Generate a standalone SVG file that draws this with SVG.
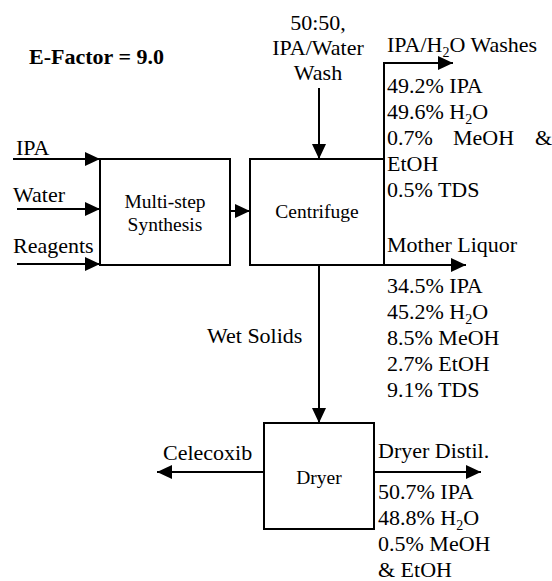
<svg xmlns="http://www.w3.org/2000/svg" width="552" height="581" viewBox="0 0 552 581">
<defs>
<marker id="ah" markerWidth="15" markerHeight="14" refX="15" refY="7" orient="auto" markerUnits="userSpaceOnUse">
<path d="M0,0 L15,7 L0,14 Z" fill="#000"/>
</marker>
<style>
.box{fill:#fff;stroke:#000;stroke-width:2}
.lbl{font-size:19.5px;text-anchor:middle}
.c{stroke:#000;stroke-width:2;fill:none}
.a{marker-end:url(#ah)}
.sub{font-size:14px}
</style>
</defs>
<rect width="552" height="581" fill="#fff"/>
<g font-family="Liberation Serif, Times New Roman, serif" font-size="22" fill="#000">
<text x="29" y="64" font-weight="bold">E-Factor = 9.0</text>
<g id="connectors">
<line class="c a" x1="13" y1="159" x2="100" y2="159"/>
<line class="c a" x1="17" y1="209" x2="100" y2="209"/>
<line class="c a" x1="17" y1="264" x2="100" y2="264"/>
<line class="c a" x1="230" y1="211" x2="250" y2="211"/>
<line class="c a" x1="319" y1="88" x2="319" y2="159"/>
<polyline class="c a" points="384,265 384,63 453,63"/>
<line class="c a" x1="384" y1="265" x2="466" y2="265"/>
<line class="c a" x1="319" y1="265" x2="319" y2="423"/>
<line class="c a" x1="264" y1="472" x2="157" y2="472"/>
<line class="c a" x1="374" y1="472" x2="481" y2="472"/>
</g>
<g id="synthesis">
<rect class="box" x="100" y="159" width="130" height="106"/>
<text class="lbl" x="165" y="208">Multi-step</text>
<text class="lbl" x="165" y="231">Synthesis</text>
</g>
<g id="centrifuge">
<rect class="box" x="250" y="159" width="134" height="106"/>
<text class="lbl" x="317" y="218">Centrifuge</text>
</g>
<g id="dryer">
<rect class="box" x="264" y="423" width="110" height="106"/>
<text class="lbl" x="319" y="484">Dryer</text>
</g>
<g id="labels">
<text x="16" y="155">IPA</text>
<text x="13" y="202">Water</text>
<text x="13" y="253">Reagents</text>
<text x="318" y="30" text-anchor="middle">50:50,</text>
<text x="318" y="55" text-anchor="middle">IPA/Water</text>
<text x="318" y="80" text-anchor="middle">Wash</text>
<text x="387" y="52">IPA/H<tspan class="sub" dy="5">2</tspan><tspan dy="-5">O Washes</tspan></text>
<text x="387" y="93">49.2% IPA</text>
<text x="387" y="119">49.6% H<tspan class="sub" dy="5">2</tspan><tspan dy="-5">O</tspan></text>
<text y="145"><tspan x="387">0.7%</tspan><tspan x="453">MeOH</tspan><tspan x="535">&amp;</tspan></text>
<text x="387" y="171">EtOH</text>
<text x="387" y="197">0.5% TDS</text>
<text x="387" y="252">Mother Liquor</text>
<text x="387" y="293">34.5% IPA</text>
<text x="387" y="319">45.2% H<tspan class="sub" dy="5">2</tspan><tspan dy="-5">O</tspan></text>
<text x="387" y="345">8.5% MeOH</text>
<text x="387" y="371">2.7% EtOH</text>
<text x="387" y="397">9.1% TDS</text>
<text x="207" y="343">Wet Solids</text>
<text x="163" y="460">Celecoxib</text>
<text x="378" y="458">Dryer Distil.</text>
<text x="378" y="499">50.7% IPA</text>
<text x="378" y="525">48.8% H<tspan class="sub" dy="5">2</tspan><tspan dy="-5">O</tspan></text>
<text x="378" y="551">0.5% MeOH</text>
<text x="378" y="577">&amp; EtOH</text>
</g>
</g>
</svg>
